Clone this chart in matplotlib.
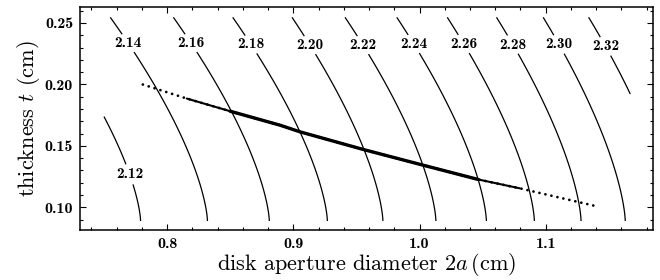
import numpy as np
import matplotlib
matplotlib.use("Agg")
from matplotlib import pyplot as plt
from matplotlib.ticker import MultipleLocator, FormatStrFormatter

plt.rcParams['font.family'] = 'cmb10'
plt.rcParams['mathtext.fontset'] = 'cm'
plt.rcParams['axes.formatter.use_mathtext'] = True

# contour levels and where each one meets the bottom / top of the plotted region
levels = [2.12, 2.14, 2.16, 2.18, 2.20, 2.22, 2.24, 2.26, 2.28, 2.30, 2.32]
x_bottom = [0.779, 0.832, 0.881, 0.927, 0.971, 1.013, 1.053, 1.091, 1.128, 1.163, 1.199]
x_top = [0.700, 0.755, 0.805, 0.852, 0.899, 0.941, 0.982, 1.022, 1.061, 1.098, 1.134]
t_lo, t_hi = 0.0888, 0.2546
x_lo, x_hi = 0.750, 1.167

# contour label positions
label_x = [0.768, 0.7667, 0.8166, 0.8657, 0.9132, 0.9552, 0.994, 1.0336, 1.0732, 1.1096, 1.1492]
label_t = [0.126, 0.232, 0.232, 0.232, 0.232, 0.232, 0.232, 0.232, 0.232, 0.232, 0.232]

# the dotted / solid curve
curve_x = [0.7808, 0.8156, 0.8499, 0.8895, 0.9053, 0.9552, 1.0027, 1.0462, 1.0795, 1.1420]
curve_t = [0.1999, 0.1885, 0.1782, 0.1668, 0.1614, 0.1471, 0.1343, 0.1227, 0.1154, 0.1004]

# build field from the read contour positions
xs = np.linspace(x_lo, x_hi, 400)
ts = np.linspace(t_lo, t_hi, 300)
X, T = np.meshgrid(xs, ts)
xb = np.array(x_bottom)
xt = np.array(x_top)
lv = np.array(levels)
lv_ext = np.r_[lv[0] - 0.02, lv, lv[-1] + 0.02]
Z = np.empty_like(X)
for j, t in enumerate(ts):
    s = ((t - t_lo) / (t_hi - t_lo)) ** 1.5
    xi = xb - (xb - xt) * s
    xi_ext = np.r_[2 * xi[0] - xi[1], xi, 2 * xi[-1] - xi[-2]]
    Z[j] = np.interp(xs, xi_ext, lv_ext)

fig = plt.figure(figsize=(6.6, 2.8), dpi=100)
ax = fig.add_axes([0.1212, 0.1786, 0.8682, 0.7964])

cs = ax.contour(X, T, Z, levels=levels, colors='black', linewidths=0.9)
labels = ax.clabel(cs, levels, manual=list(zip(label_x, label_t)), inline=True,
                   inline_spacing=-2, fmt='%.2f', fontsize=11)
for txt in labels:
    txt.set_rotation(0)

cx = np.array(curve_x)
ct = np.array(curve_t)
ax.plot(cx, ct, color='black', lw=2.0, linestyle=(0, (0.01, 2.2)),
        dash_capstyle='round')
mid = (cx >= 0.815) & (cx <= 1.08)
ax.plot(cx[mid], ct[mid], color='black', lw=1.5, solid_capstyle='round')
core = (cx >= 0.849) & (cx <= 1.047)
ax.plot(cx[core], ct[core], color='black', lw=2.4, solid_capstyle='round')

ax.set_xlim(0.731, 1.185)
ax.set_ylim(0.0815, 0.263)
ax.xaxis.set_major_locator(MultipleLocator(0.1))
ax.xaxis.set_minor_locator(MultipleLocator(0.02))
ax.yaxis.set_major_locator(MultipleLocator(0.05))
ax.yaxis.set_minor_locator(MultipleLocator(0.01))
ax.xaxis.set_major_formatter(FormatStrFormatter('%.1f'))
ax.yaxis.set_major_formatter(FormatStrFormatter('%.2f'))
ax.tick_params(which='both', direction='in', top=True, right=True, width=0.8)
ax.tick_params(which='major', length=4, labelsize=11.5, pad=5)
ax.tick_params(which='minor', length=2)
for sp in ax.spines.values():
    sp.set_linewidth(1.1)

ax.set_xlabel(r'disk aperture diameter $2a\,$(cm)', fontfamily='cmr10',
              fontsize=16, labelpad=0)
ax.set_ylabel(r'thickness $t$ (cm)', fontfamily='cmr10', fontsize=16, labelpad=2)

fig.savefig('out.png', dpi=100)
